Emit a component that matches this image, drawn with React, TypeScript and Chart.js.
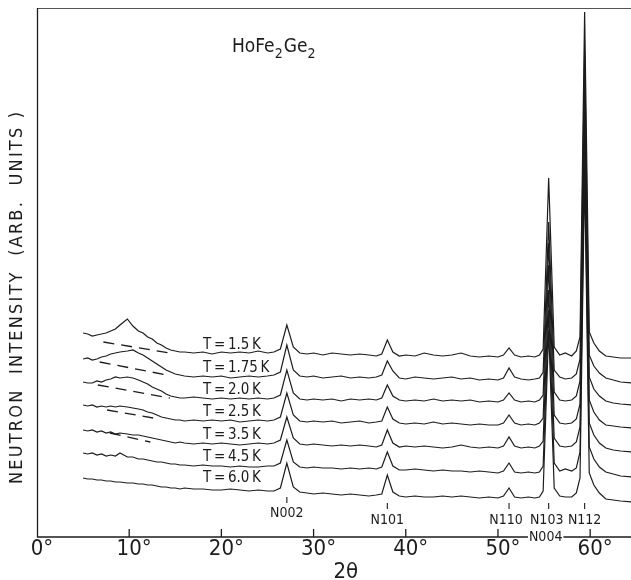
import React, { useEffect, useRef } from "react";
import { Chart, registerables } from "chart.js";

Chart.register(...registerables);

// 2θ sampling positions (degrees)
const twoTheta = [5, 5.5, 6, 6.5, 7, 7.5, 8, 8.5, 9, 9.8, 10.4, 11, 11.5, 12, 12.5, 13, 13.5, 14, 14.5, 15, 15.5, 16, 17, 18, 19, 20, 21, 22, 23, 24, 25, 25.7, 26.4, 27.1, 27.8, 28.5, 29.3, 30, 31, 32, 33, 34, 35, 36, 36.8, 37.4, 38.0, 38.6, 39.3, 40, 41, 42, 43, 44, 45, 46, 47, 48, 49, 50, 50.6, 51.2, 51.8, 52.5, 53.3, 54, 54.5, 54.9, 55.5, 56.1, 56.7, 57.3, 58, 58.5, 58.9, 59.4, 59.9, 60.4, 61, 61.7, 62.5, 63.3, 64.5];

const temperatures = ["1.5", "1.75", "2.0", "2.5", "3.5", "4.5", "6.0"];

// Offset neutron intensity (arb. units) for each temperature
const curveT15 = [204, 203, 201, 202, 203, 204, 206, 208, 212, 218, 211, 206, 204, 200, 198, 194, 192, 189, 187, 186, 185, 185, 184, 185, 183, 185, 184, 185, 184, 186, 184, 185, 188, 212, 190, 184, 183, 184, 182, 184, 183, 182, 183, 182, 181, 183, 197, 185, 181, 182, 181, 184, 182, 181, 182, 184, 181, 180, 181, 180, 182, 189, 182, 180, 181, 180, 182, 188, 359, 190, 182, 184, 181, 186, 200, 525, 205, 194, 186, 181, 180, 179, 179];
const curveT175 = [178, 179, 177, 178, 180, 181, 183, 184, 185, 186, 187, 184, 182, 179, 176, 173, 170, 167, 165, 163, 162, 161, 160, 161, 160, 161, 159, 160, 161, 160, 161, 162, 165, 192, 167, 161, 160, 161, 159, 160, 161, 159, 160, 159, 160, 162, 176, 166, 159, 158, 160, 159, 158, 159, 160, 158, 159, 157, 158, 157, 159, 169, 160, 158, 157, 158, 159, 165, 315, 167, 160, 158, 159, 163, 178, 487, 182, 171, 164, 159, 157, 155, 154];
const curveT20 = [155, 154, 154, 156, 155, 157, 158, 160, 159, 160, 159, 157, 155, 153, 150, 148, 146, 143, 141, 140, 139, 139, 140, 139, 138, 139, 138, 139, 138, 139, 138, 139, 142, 167, 144, 138, 137, 138, 137, 138, 136, 138, 137, 138, 137, 139, 152, 141, 137, 136, 137, 136, 138, 136, 137, 136, 137, 135, 136, 135, 137, 144, 137, 135, 136, 135, 137, 142, 294, 145, 137, 136, 137, 141, 156, 457, 160, 148, 141, 136, 134, 133, 132];
const curveT25 = [132, 131, 132, 130, 131, 130, 131, 130, 131, 130, 129, 128, 127, 125, 124, 122, 120, 119, 118, 117, 117, 116, 117, 116, 117, 116, 117, 115, 116, 117, 116, 117, 120, 144, 122, 116, 115, 116, 115, 116, 114, 115, 116, 114, 115, 116, 130, 118, 114, 113, 114, 113, 115, 113, 114, 113, 112, 113, 112, 112, 114, 122, 114, 112, 113, 112, 114, 119, 272, 122, 114, 113, 114, 118, 133, 434, 137, 125, 117, 112, 111, 110, 109];
const curveT35 = [107, 106, 107, 105, 106, 104, 105, 103, 104, 103, 102, 102, 101, 100, 99, 98, 97, 96, 95, 94, 95, 94, 93, 94, 93, 94, 93, 92, 93, 94, 93, 94, 97, 120, 99, 93, 92, 93, 92, 91, 92, 91, 92, 91, 90, 92, 107, 94, 90, 91, 90, 91, 90, 89, 90, 92, 90, 89, 90, 89, 91, 100, 91, 89, 90, 89, 91, 96, 247, 99, 91, 90, 91, 95, 110, 407, 114, 102, 94, 89, 87, 86, 85];
const curveT45 = [84, 83, 84, 82, 83, 81, 82, 81, 84, 80, 80, 78, 78, 77, 76, 75, 75, 74, 73, 73, 72, 72, 71, 72, 71, 71, 70, 71, 70, 70, 71, 71, 74, 97, 75, 70, 69, 70, 69, 69, 68, 69, 68, 69, 68, 70, 85, 71, 67, 67, 68, 67, 66, 67, 66, 66, 65, 66, 65, 64, 66, 74, 65, 64, 65, 64, 65, 71, 227, 74, 66, 68, 66, 69, 85, 387, 90, 78, 70, 65, 63, 61, 60];
const curveT60 = [59, 58, 58, 57, 57, 56, 56, 55, 55, 54, 54, 53, 53, 52, 52, 51, 50, 50, 49, 49, 48, 49, 48, 48, 47, 47, 48, 47, 46, 47, 46, 46, 49, 74, 50, 45, 44, 43, 44, 43, 42, 43, 42, 41, 42, 43, 62, 45, 41, 40, 41, 40, 40, 41, 40, 41, 40, 39, 40, 39, 41, 49, 40, 39, 40, 39, 40, 46, 207, 49, 41, 40, 40, 44, 59, 364, 64, 52, 44, 38, 37, 36, 35];

// Dashed background estimates under the low-angle bump: [2θ, I] at both ends
const dashT15 = [[7.2, 195], [14.4, 184]];
const dashT175 = [[6.8, 175], [14.1, 162]];
const dashT20 = [[6.6, 152], [14.4, 139]];
const dashT25 = [[7.6, 127], [12.6, 119]];
const dashT35 = [[7.9, 104], [12.3, 95]];

const xTickValues = [0, 10, 20, 30, 40, 50, 60];
const reflectionLabels = ["N002", "N101", "N110", "N103", "N112"];
const reflectionAngles = [27.1, 38.0, 51.2, 55.5, 59.4];

const curves = [curveT15, curveT175, curveT20, curveT25, curveT35, curveT45, curveT60];
const dashes = [dashT15, dashT175, dashT20, dashT25, dashT35];

const FONT = '"DejaVu Sans Condensed", "Liberation Sans Narrow", "DejaVu Sans", sans-serif';
const INK = "#1c1c1c";

const decorPlugin = {
  id: "decor",
  afterDatasetsDraw(chart: any) {
    const { ctx, chartArea: a, scales } = chart;
    const xs = scales.x;
    const ys = scales.y;
    ctx.save();

    // frame
    ctx.strokeStyle = "#555";
    ctx.lineWidth = 1;
    ctx.beginPath();
    ctx.moveTo(a.left, a.top + 0.5);
    ctx.lineTo(a.right, a.top + 0.5);
    ctx.stroke();
    ctx.strokeStyle = INK;
    ctx.lineWidth = 1.3;
    ctx.beginPath();
    ctx.moveTo(a.left + 0.5, a.top);
    ctx.lineTo(a.left + 0.5, a.bottom);
    ctx.lineTo(a.right, a.bottom);
    ctx.stroke();

    // x ticks (inward) and labels
    ctx.fillStyle = INK;
    ctx.font = `22px ${FONT}`;
    ctx.textBaseline = "middle";
    xTickValues.forEach((v) => {
      const px = xs.getPixelForValue(v);
      if (v !== 0) {
        ctx.beginPath();
        ctx.moveTo(px, a.bottom);
        ctx.lineTo(px, a.bottom - 8);
        ctx.stroke();
      }
      const s = String(v);
      const w = ctx.measureText(s).width;
      ctx.textAlign = "left";
      ctx.fillText(s, px - w / 2, a.bottom + 12);
      ctx.fillText("°", px + w / 2, a.bottom + 12);
    });

    // x title
    ctx.textAlign = "center";
    ctx.fillText("2θ", xs.getPixelForValue(33.5), a.bottom + 35);

    // y title
    ctx.save();
    ctx.translate(17, 298);
    ctx.rotate(-Math.PI / 2);
    ctx.font = `18px ${FONT}`;
    const title = "NEUTRON  INTENSITY  (ARB.  UNITS )";
    const tw = ctx.measureText(title).width;
    const target = 372;
    const sp = (target - tw) / (title.length - 1);
    (ctx as any).letterSpacing = `${sp}px`;
    ctx.textAlign = "left";
    ctx.fillText(title, -target / 2, 0);
    (ctx as any).letterSpacing = "0px";
    ctx.restore();

    // compound label
    ctx.textAlign = "left";
    ctx.textBaseline = "alphabetic";
    let cx = 232;
    const parts: [string, boolean][] = [["HoFe", false], ["2", true], ["Ge", false], ["2", true]];
    parts.forEach(([t, sub]) => {
      ctx.font = sub ? `14px ${FONT}` : `19px ${FONT}`;
      ctx.fillText(t, cx, sub ? 58 : 52);
      cx += ctx.measureText(t).width + (sub ? 1 : 0);
    });

    // temperature labels
    const tempLabelY = [192, 169, 147, 125, 102, 80, 59];
    ctx.font = `15px ${FONT}`;
    ctx.textBaseline = "middle";
    temperatures.forEach((t, i) => {
      ctx.fillText(`T\u2009=\u2009${t}\u2009K`, xs.getPixelForValue(18), ys.getPixelForValue(tempLabelY[i]));
    });

    // reflection markers
    ctx.font = `14px ${FONT}`;
    ctx.textAlign = "center";
    ctx.lineWidth = 1.1;
    const tickTop = [497, 503, 503, 503, 503];
    const labelY = [513, 520, 520, 520, 520];
    reflectionAngles.forEach((ang, i) => {
      const px = xs.getPixelForValue(ang);
      ctx.beginPath();
      ctx.moveTo(px, tickTop[i]);
      ctx.lineTo(px, tickTop[i] + 6);
      ctx.stroke();
      ctx.fillText(reflectionLabels[i], px + (i === 2 ? -3 : i === 3 ? -2 : 0), labelY[i]);
    });
    // N004 under N103
    const p4 = xs.getPixelForValue(reflectionAngles[3]) - 3;
    const w4 = ctx.measureText("N004").width;
    ctx.fillStyle = "#fff";
    ctx.fillRect(p4 - w4 / 2 - 1, 530, w4 + 2, 14);
    ctx.fillStyle = INK;
    ctx.fillText("N004", p4, 537);

    ctx.restore();
  },
};

export default function App() {
  const ref = useRef<HTMLCanvasElement | null>(null);

  useEffect(() => {
    if (!ref.current) return;
    const lineSets = curves.map((c, i) => ({
      label: `T = ${temperatures[i]} K`,
      data: twoTheta.map((x, j) => ({ x, y: c[j] })),
      borderColor: INK,
      borderWidth: 1.2,
      pointRadius: 0,
      tension: 0,
      fill: false,
    }));
    const dashSets = dashes.map((d) => ({
      label: "background",
      data: d.map(([x, y]) => ({ x, y })),
      borderColor: INK,
      borderWidth: 1.3,
      borderDash: [11, 7],
      pointRadius: 0,
      tension: 0,
      fill: false,
    }));
    const chart = new Chart(ref.current, {
      type: "line",
      data: { datasets: [...lineSets, ...dashSets] as any },
      options: {
        animation: false,
        responsive: false,
        devicePixelRatio: 1,
        layout: { padding: { left: 37, top: 8, right: 0, bottom: 43 } },
        plugins: { legend: { display: false }, tooltip: { enabled: false } },
        scales: {
          x: { type: "linear", min: 0, max: 64.43, display: false },
          y: { type: "linear", min: 0, max: 529, display: false },
        },
      },
      plugins: [decorPlugin],
    });
    return () => chart.destroy();
  }, []);

  return (
    <div style={{ position: "absolute", left: 0, top: 0, width: 631, height: 580, background: "#fff" }}>
      <canvas ref={ref} width={631} height={580} style={{ display: "block" }} />
    </div>
  );
}
